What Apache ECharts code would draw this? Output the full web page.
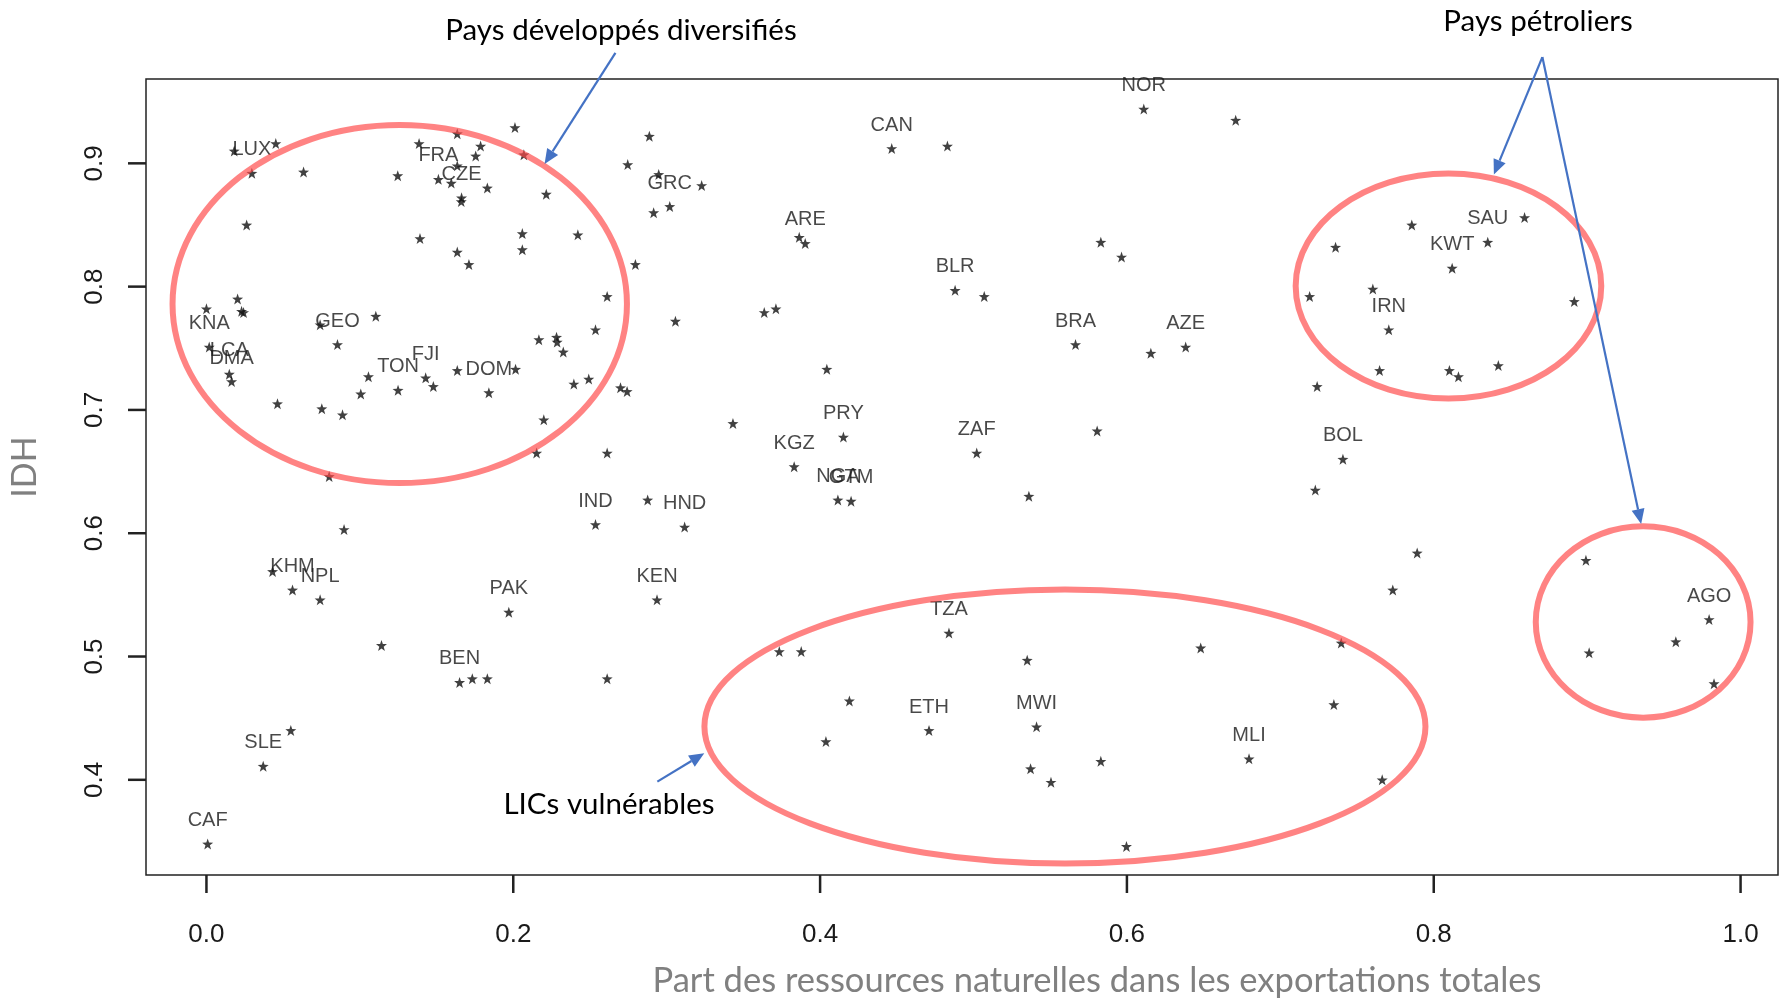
<!DOCTYPE html>
<html>
<head>
<meta charset="utf-8">
<script src="https://cdn.jsdelivr.net/npm/echarts@6/dist/echarts.min.js"></script>
<style>
  html, body { margin: 0; padding: 0; background: #ffffff; }
  #chart { width: 1785px; height: 1000px; }
</style>
</head>
<body>
<div id="chart"></div>
<script>
// Country codes of the labelled points (the first 40 entries of the value arrays)
const codes = [
  'LUX','KNA','LCA','DMA','GEO','FJI','TON','DOM','FRA','CZE',
  'GRC','CAN','ARE','BLR','PRY','KGZ','ZAF','NGA','GTM','IND',
  'HND','KEN','KHM','NPL','PAK','BEN','SLE','CAF','TZA','ETH',
  'MWI','MLI','NOR','BRA','AZE','BOL','IRN','KWT','SAU','AGO'
];

// Share of natural resources in total exports
const exportShare = [
  0.0296,0.0018,0.0149,0.0164,0.0854,0.1429,0.1249,0.1841,0.1512,0.1663,
  0.3020,0.4467,0.3903,0.4880,0.4152,0.3831,0.5021,0.4116,0.4202,0.2536,
  0.3117,0.2937,0.0561,0.0741,0.1971,0.1650,0.0370,0.0008,0.4840,0.4710,
  0.5411,0.6796,0.6110,0.5665,0.6383,0.7408,0.7707,0.8120,0.8352,0.9795,
  0.0181,0.0452,0.0633,0.0262,0.0203,0.0000,0.0229,0.0242,0.0741,0.1104,
  0.1479,0.1635,0.2015,0.1056,0.1006,0.0463,0.0752,0.0887,0.2199,0.2152,
  0.2612,0.0800,0.1386,0.1635,0.2011,0.1787,0.1755,0.1635,0.1596,0.1661,
  0.1831,0.2069,0.2215,0.2746,0.1247,0.2059,0.2059,0.2421,0.1392,0.1635,
  0.1711,0.2796,0.2612,0.2536,0.2167,0.2282,0.2286,0.2326,0.2395,0.2492,
  0.2699,0.2742,0.0897,0.0431,0.1141,0.1733,0.1831,0.2612,0.0550,0.2887,
  0.2948,0.3228,0.2915,0.3057,0.3432,0.3864,0.4830,0.5070,0.3636,0.3712,
  0.4044,0.2876,0.5361,0.3734,0.3877,0.5350,0.4191,0.4038,0.5372,0.5505,
  0.5806,0.7228,0.7892,0.7733,0.6481,0.7397,0.7349,0.5830,0.7664,0.5997,
  0.6709,0.5830,0.5965,0.6156,0.7240,0.7360,0.7191,0.7857,0.7603,0.7647,
  0.8592,0.8916,0.8102,0.8161,0.8421,0.8992,0.9578,0.9013,0.9827
];

// Human development index (IDH)
const idh = [
  0.892,0.751,0.729,0.723,0.753,0.726,0.716,0.714,0.887,0.872,
  0.865,0.912,0.835,0.797,0.678,0.654,0.665,0.627,0.626,0.607,
  0.605,0.546,0.554,0.546,0.536,0.479,0.411,0.348,0.519,0.440,
  0.443,0.417,0.944,0.753,0.751,0.660,0.765,0.815,0.836,0.530,
  0.910,0.916,0.893,0.850,0.790,0.782,0.780,0.779,0.769,0.776,
  0.719,0.732,0.733,0.727,0.713,0.705,0.701,0.696,0.692,0.665,
  0.665,0.646,0.916,0.924,0.929,0.914,0.906,0.898,0.884,0.869,
  0.880,0.907,0.875,0.899,0.890,0.843,0.830,0.842,0.839,0.828,
  0.818,0.818,0.792,0.765,0.757,0.759,0.755,0.747,0.721,0.725,
  0.718,0.715,0.603,0.569,0.509,0.482,0.482,0.482,0.440,0.922,
  0.891,0.882,0.860,0.772,0.689,0.840,0.914,0.792,0.779,0.782,
  0.733,0.627,0.630,0.504,0.504,0.497,0.464,0.431,0.409,0.398,
  0.683,0.635,0.584,0.554,0.507,0.511,0.461,0.415,0.400,0.346,
  0.935,0.836,0.824,0.746,0.719,0.832,0.792,0.850,0.798,0.732,
  0.856,0.788,0.732,0.727,0.736,0.578,0.512,0.503,0.478
];

const xTicks = [0.0, 0.2, 0.4, 0.6, 0.8, 1.0];
const yTicks = [0.4, 0.5, 0.6, 0.7, 0.8, 0.9];
const xRange = [-0.0394, 1.0244];
const yRange = [0.3228, 0.9684];

const xTitle = 'Part des ressources naturelles dans les exportations totales';
const yTitle = 'IDH';

// Highlighted groups (ellipses in data units: centre, half-width, half-height)
const groupNames = ['Pays développés diversifiés', 'Pays pétroliers', 'LICs vulnérables'];
const groupEllipses = [
  [0.1260, 0.7859, 0.1481, 0.1452],
  [0.8096, 0.8005, 0.0996, 0.0912],
  [0.9365, 0.5280, 0.0700, 0.0776],
  [0.5596, 0.4432, 0.2350, 0.1111]
];
// Callout arrows: [fromX, fromY, toX, toY] in data units
const groupArrows = [
  [0.2666, 0.9896, 0.2204, 0.8994],
  [0.8708, 0.9862, 0.8392, 0.8909],
  [0.8708, 0.9862, 0.9352, 0.6074],
  [0.2939, 0.3985, 0.3245, 0.4215]
];

const points = exportShare.map((x, i) => [x, idh[i], codes[i] || '']);

const starPath = 'path://M0,-10 L2.35,-3.24 L9.51,-3.09 L3.8,1.24 L5.88,8.09 L0,4 L-5.88,8.09 L-3.8,1.24 L-9.51,-3.09 L-2.35,-3.24 Z';

const tickFont = { fontFamily: 'Liberation Sans', fontSize: 26, color: '#1a1a1a' };
const axisColor = '#222222';
const tickLength = 18;

const chart = echarts.init(document.getElementById('chart'), null, { renderer: 'canvas' });

chart.setOption({
  animation: false,
  grid: {
    left: 146, right: 7, top: 79, bottom: 125,
    show: true, borderColor: axisColor, borderWidth: 1.5
  },
  xAxis: {
    type: 'value',
    min: xRange[0], max: xRange[1],
    splitLine: { show: false },
    axisLine: { show: false, onZero: false },
    axisTick: { show: false },
    axisLabel: { customValues: xTicks, margin: 47, ...tickFont,
      formatter: v => v.toFixed(1) }
  },
  yAxis: {
    type: 'value',
    min: yRange[0], max: yRange[1],
    splitLine: { show: false },
    axisLine: { show: false, onZero: false },
    axisTick: { show: false },
    axisLabel: { customValues: yTicks, margin: 38, rotate: 90, ...tickFont,
      formatter: v => v.toFixed(1) }
  },
  series: [{
    type: 'scatter',
    data: points,
    symbol: starPath,
    symbolSize: 11,
    itemStyle: { color: '#111111' },
    label: {
      show: true,
      position: 'top',
      distance: 8,
      formatter: p => p.data[2] || '',
      fontFamily: 'Liberation Sans',
      fontSize: 20,
      color: '#1a1a1a'
    },
    emphasis: { disabled: true }
  }]
});

function px(x, y) { return chart.convertToPixel({ gridIndex: 0 }, [x, y]); }

const overlay = [];

// Outward tick marks on the bottom and left edges of the plot box
xTicks.forEach(v => {
  const p = px(v, yRange[0]);
  overlay.push({ type: 'line', z: 50,
    shape: { x1: p[0], y1: p[1], x2: p[0], y2: p[1] + tickLength },
    style: { stroke: axisColor, lineWidth: 2.5 } });
});
yTicks.forEach(v => {
  const p = px(xRange[0], v);
  overlay.push({ type: 'line', z: 50,
    shape: { x1: p[0], y1: p[1], x2: p[0] - tickLength, y2: p[1] },
    style: { stroke: axisColor, lineWidth: 2.5 } });
});

// Group ellipses
groupEllipses.forEach(([cx, cy, rx, ry]) => {
  const c = px(cx, cy);
  const e = px(cx + rx, cy + ry);
  overlay.push({
    type: 'ellipse', z: 100,
    shape: { cx: c[0], cy: c[1], rx: Math.abs(e[0] - c[0]), ry: Math.abs(e[1] - c[1]) },
    style: { fill: 'none', stroke: 'rgba(255,72,72,0.68)', lineWidth: 6 }
  });
});

// Callout arrows
groupArrows.forEach(([x0, y0, x1, y1]) => {
  const a = px(x0, y0), b = px(x1, y1);
  const dx = b[0] - a[0], dy = b[1] - a[1];
  const len = Math.hypot(dx, dy), ux = dx / len, uy = dy / len;
  const hl = 15, hw = 6.5;
  const base = [b[0] - ux * hl, b[1] - uy * hl];
  overlay.push({
    type: 'line', z: 101,
    shape: { x1: a[0], y1: a[1], x2: base[0], y2: base[1] },
    style: { stroke: '#4472C4', lineWidth: 2.2 }
  });
  overlay.push({
    type: 'polygon', z: 101,
    shape: { points: [b, [base[0] - uy * hw, base[1] + ux * hw], [base[0] + uy * hw, base[1] - ux * hw]] },
    style: { fill: '#4472C4' }
  });
});

// Captions and axis titles
const captionFont = 'Lato';
overlay.push(
  { type: 'text', z: 102, x: 621, y: 30,
    style: { text: groupNames[0], font: '29.5px ' + captionFont, fill: '#000', align: 'center', verticalAlign: 'middle' } },
  { type: 'text', z: 102, x: 1538, y: 21,
    style: { text: groupNames[1], font: '29.5px ' + captionFont, fill: '#000', align: 'center', verticalAlign: 'middle' } },
  { type: 'text', z: 102, x: 609, y: 804,
    style: { text: groupNames[2], font: '29.5px ' + captionFont, fill: '#000', align: 'center', verticalAlign: 'middle' } },
  { type: 'text', z: 102, x: 1097, y: 981,
    style: { text: xTitle, font: '34.5px ' + captionFont, fill: '#808080', align: 'center', verticalAlign: 'middle' } },
  { type: 'text', z: 102, x: 25, y: 467, rotation: Math.PI / 2,
    style: { text: yTitle, font: '34px ' + captionFont, fill: '#808080', align: 'center', verticalAlign: 'middle' } }
);

chart.setOption({ graphic: overlay });
</script>
</body>
</html>
